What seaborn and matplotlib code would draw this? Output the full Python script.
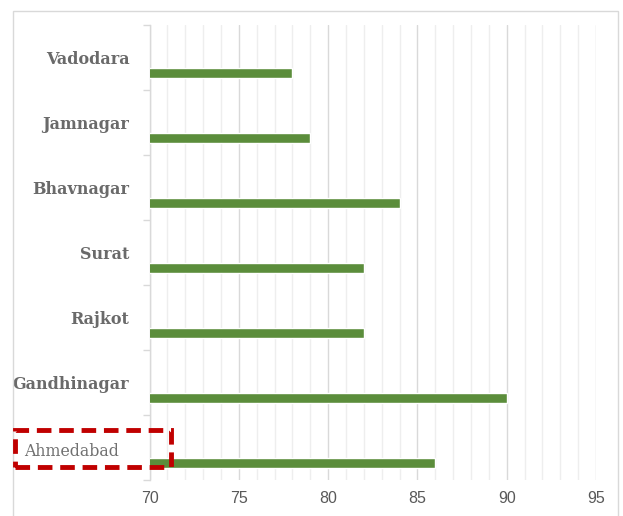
import matplotlib
matplotlib.use("Agg")
import matplotlib.pyplot as plt
import matplotlib.transforms as mtransforms
import seaborn as sns
import pandas as pd
from matplotlib.patches import Rectangle
from matplotlib.ticker import FixedLocator, MultipleLocator

# ---- data ----
cities = ["Vadodara", "Jamnagar", "Bhavnagar", "Surat", "Rajkot", "Gandhinagar", "Ahmedabad"]
values = [78, 79, 84, 82, 82, 90, 86]
x_ticks = [70, 75, 80, 85, 90, 95]
highlight = "Ahmedabad"

sns.set_theme(style="white")
plt.rcParams["font.family"] = ["DejaVu Sans"]

W, H = 623, 516
fig = plt.figure(figsize=(W / 100, H / 100), dpi=100)
fig.patch.set_facecolor("white")

left, right, top, bottom = 149.5, 596, 25, 480
ax = fig.add_axes([left / W, 1 - bottom / H, (right - left) / W, (bottom - top) / H])

df = pd.DataFrame({"city": cities, "value": values})
sns.barplot(data=df, x="value", y="city", orient="h", color="#5B8D3B",
            saturation=1, width=0.15, ax=ax, zorder=3)

OFF = 0.235
n = len(cities)
ax.set_ylim(n - 0.5 - OFF, -0.5 - OFF)
ax.set_yticks([i - OFF for i in range(n)])
ax.set_yticklabels(cities)
ax.yaxis.set_minor_locator(FixedLocator([i - 0.5 - OFF for i in range(n + 1)]))

ax.set_xlim(70, 95)
ax.set_xticks(x_ticks)
ax.set_xticklabels([str(t) for t in x_ticks])
ax.xaxis.set_minor_locator(MultipleLocator(1))

ax.set_axisbelow(True)
ax.grid(which="major", axis="x", color="#d9d9d9", lw=1)
ax.grid(which="minor", axis="x", color="#eeeeee", lw=1)
ax.grid(which="both", axis="y", visible=False)

for s in ["top", "right", "bottom"]:
    ax.spines[s].set_visible(False)
ax.spines["left"].set_color("#d9d9d9")
ax.spines["left"].set_linewidth(1)

ax.set_xlabel("")
ax.set_ylabel("")

ax.tick_params(axis="y", which="major", length=0, pad=14.5)
ax.tick_params(axis="y", which="minor", length=5, width=1, color="#d9d9d9", left=True)
ax.tick_params(axis="x", which="both", length=0, pad=8, labelsize=11.5, labelcolor="#595959")

for tl in ax.get_yticklabels():
    tl.set_fontfamily("DejaVu Serif")
    tl.set_fontsize(11.5)
    tl.set_color("#6a6a6a")
    tl.set_fontweight("bold")
    if tl.get_text() == highlight:
        tl.set_fontweight("normal")
        tl.set_fontsize(11.3)
        tl.set_color("#707070")
        tl.set_transform(tl.get_transform() +
                         mtransforms.ScaledTranslation(-10 / 100, -2 / 100, fig.dpi_scale_trans))
for tl in ax.get_xticklabels():
    tl.set_fontfamily("Liberation Sans")

# outer chart border
fig.patches.append(Rectangle((13 / W, -0.05), (618 - 13) / W, 1 - 11 / H + 0.05,
                             transform=fig.transFigure, fill=False,
                             edgecolor="#d9d9d9", lw=1))
# red dashed highlight box
red = Rectangle((15 / W, 1 - 467 / H), (171 - 15) / W, (467 - 430) / H,
                transform=fig.transFigure, fill=False, edgecolor="#c00000",
                lw=3.5, linestyle=(0, (3, 1.6)), zorder=10)
red.set_capstyle("butt")
fig.patches.append(red)

fig.savefig("out.png", dpi=100)
